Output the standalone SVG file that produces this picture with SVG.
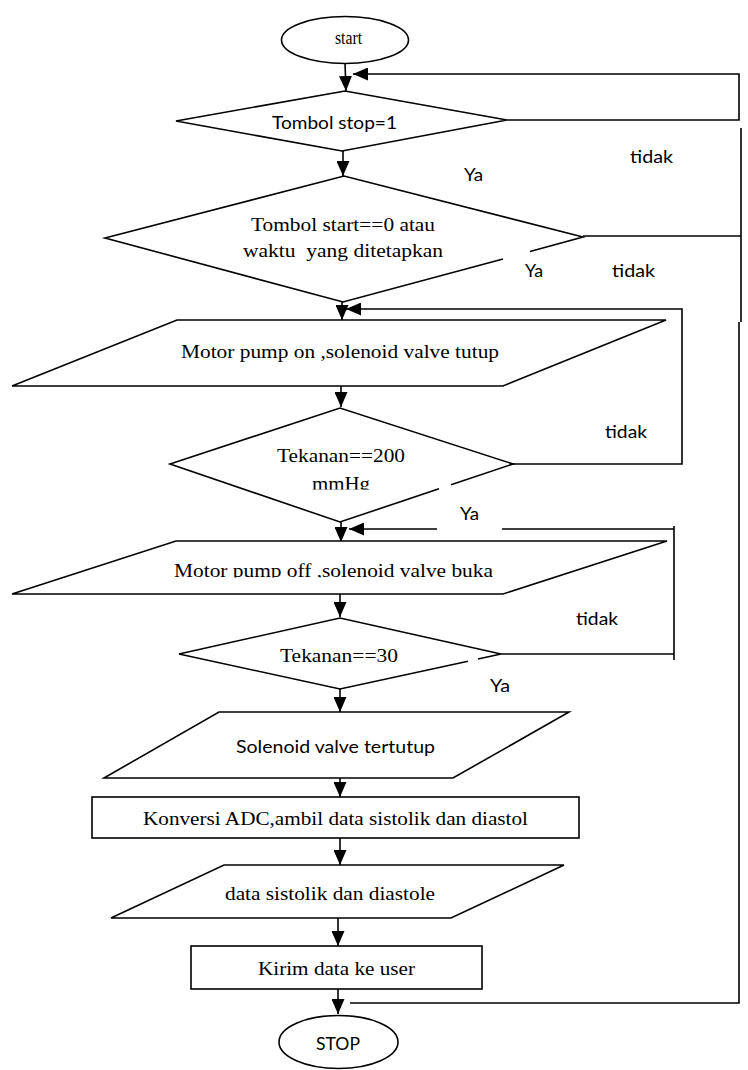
<svg xmlns="http://www.w3.org/2000/svg" width="748" height="1070" viewBox="0 0 748 1070">
<style>
.s{fill:#fff;stroke:#000;stroke-width:1.6}
.o{fill:none;stroke:#000;stroke-width:1.6}
.c{fill:none;stroke:#000;stroke-width:1.6}
.tm{font-family:"Liberation Serif","Times New Roman",serif;font-size:18px;fill:#000;text-anchor:middle}
.sn{font-family:Lato,"Liberation Sans",sans-serif;font-size:18px;fill:#000;text-anchor:middle}
</style>
<defs>
<marker id="ah" viewBox="0 0 15 13" refX="15" refY="6.5" markerWidth="15" markerHeight="13" markerUnits="userSpaceOnUse" orient="auto">
<path d="M0,0 L15,6.5 L0,13 Z" fill="#000"/>
</marker>
<clipPath id="clipMm"><rect x="250" y="440" width="200" height="49.5"/></clipPath>
<clipPath id="clipOff"><rect x="100" y="545" width="450" height="32.5"/></clipPath>
</defs>

<g id="connectors">
<path class="c" d="M345,63 L346,91" marker-end="url(#ah)"/>
<path class="c" d="M507,120 L739,120 L739,74 L353,74" marker-end="url(#ah)"/>
<path class="c" d="M343,151 L343,176" marker-end="url(#ah)"/>
<path class="c" d="M741,128 L741,322"/>
<path class="c" d="M583,236 L741,236"/>
<path class="c" d="M739,322 L739,1003 L350,1003"/>
<path class="c" d="M342,302 L342,320" marker-end="url(#ah)"/>
<path class="c" d="M513,464 L682,464 L682,309 L346,309" marker-end="url(#ah)"/>
<path class="c" d="M341,386 L341,407" marker-end="url(#ah)"/>
<path class="c" d="M341,522 L341,542" marker-end="url(#ah)"/>
<path class="c" d="M501,654 L674,654"/>
<path class="c" d="M674,660 L674,526"/>
<path class="c" d="M674,529 L502,529"/>
<path class="c" d="M437,529 L349,529" marker-end="url(#ah)"/>
<path class="c" d="M340,594 L340,617" marker-end="url(#ah)"/>
<path class="c" d="M340,689 L340,712" marker-end="url(#ah)"/>
<path class="c" d="M340,774 L340,797" marker-end="url(#ah)"/>
<path class="c" d="M340,838 L340,865" marker-end="url(#ah)"/>
<path class="c" d="M338,918 L338,946" marker-end="url(#ah)"/>
<path class="c" d="M338,989 L338,1014" marker-end="url(#ah)"/>
</g>

<g id="labels">
<text class="sn" x="651.5" y="163" textLength="43" lengthAdjust="spacingAndGlyphs">tidak</text>
<text class="sn" x="473.5" y="181" textLength="19" lengthAdjust="spacingAndGlyphs">Ya</text>
<text class="sn" x="534" y="277" textLength="18" lengthAdjust="spacingAndGlyphs">Ya</text>
<text class="sn" x="633.5" y="277" textLength="43" lengthAdjust="spacingAndGlyphs">tidak</text>
<text class="sn" x="626" y="438" textLength="42" lengthAdjust="spacingAndGlyphs">tidak</text>
<text class="sn" x="469.5" y="520" textLength="19" lengthAdjust="spacingAndGlyphs">Ya</text>
<text class="sn" x="597" y="625" textLength="42" lengthAdjust="spacingAndGlyphs">tidak</text>
<text class="sn" x="500" y="692" textLength="20" lengthAdjust="spacingAndGlyphs">Ya</text>
</g>

<g id="start">
<ellipse class="s" cx="345" cy="40" rx="63.5" ry="23.5"/>
<text class="tm" x="348.5" y="44" font-size="16" textLength="27" lengthAdjust="spacingAndGlyphs">start</text>
</g>

<g id="cek-stop">
<polygon class="s" points="176,121 345,91 507,120 342,151"/>
<text class="sn" x="334.5" y="129" textLength="125" lengthAdjust="spacingAndGlyphs">Tombol stop=1</text>
</g>

<g id="cek-start">
<path class="o" d="M503,259 L343,302 L105,238 L344,176 L583,237 L530,251.5"/>
<text class="tm" x="343" y="231" textLength="184" lengthAdjust="spacingAndGlyphs">Tombol start==0 atau</text>
<text class="tm" x="343" y="257" textLength="200" lengthAdjust="spacingAndGlyphs" xml:space="preserve">waktu  yang ditetapkan</text>
</g>

<g id="pump-on">
<polygon class="s" points="177,320 666,320 503,386 12,386"/>
<text class="tm" x="340" y="358" textLength="318" lengthAdjust="spacingAndGlyphs">Motor pump on ,solenoid valve tutup</text>
</g>

<g id="cek-200">
<path class="o" d="M439,488.8 L340,522 L170,464 L340,408 L513,464 L451,484.8"/>
<text class="tm" x="341" y="462" textLength="128" lengthAdjust="spacingAndGlyphs">Tekanan==200</text>
<text class="tm" x="341" y="490" textLength="58" lengthAdjust="spacingAndGlyphs" clip-path="url(#clipMm)">mmHg</text>
</g>

<g id="pump-off">
<polygon class="s" points="176,541 667,541 503,594 12,594"/>
<text class="tm" x="333.5" y="577" textLength="319" lengthAdjust="spacingAndGlyphs" clip-path="url(#clipOff)">Motor pump off ,solenoid valve buka</text>
</g>

<g id="cek-30">
<path class="o" d="M468,661.2 L340,689 L179,654 L340,618 L501,654 L478,659"/>
<text class="tm" x="339" y="662" textLength="118" lengthAdjust="spacingAndGlyphs">Tekanan==30</text>
</g>

<g id="valve-tutup">
<polygon class="s" points="219,712 569,712 453,778 104,778"/>
<text class="sn" x="335.5" y="753" textLength="199" lengthAdjust="spacingAndGlyphs">Solenoid valve tertutup</text>
</g>

<g id="konversi">
<rect class="s" x="92" y="797" width="487" height="41"/>
<text class="tm" x="335.5" y="825" textLength="385" lengthAdjust="spacingAndGlyphs">Konversi ADC,ambil data sistolik dan diastol</text>
</g>

<g id="data">
<polygon class="s" points="224,865 564,865 451,918 111,918"/>
<text class="tm" x="330" y="900" textLength="210" lengthAdjust="spacingAndGlyphs">data sistolik dan diastole</text>
</g>

<g id="kirim">
<rect class="s" x="191" y="946" width="291" height="43"/>
<text class="tm" x="336.5" y="975" textLength="157" lengthAdjust="spacingAndGlyphs">Kirim data ke user</text>
</g>

<g id="stop">
<ellipse class="s" cx="338.5" cy="1042" rx="59.5" ry="26.5"/>
<text class="sn" x="338" y="1050" textLength="44" lengthAdjust="spacingAndGlyphs">STOP</text>
</g>
</svg>
